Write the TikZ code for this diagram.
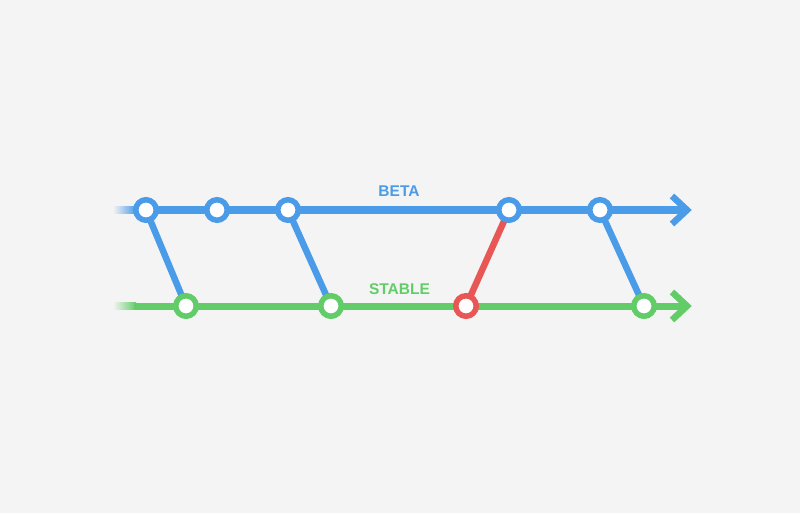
\documentclass[tikz,border=0pt]{standalone}
\usepackage{fontspec}
\setmainfont{Liberation Sans}
\definecolor{bg}{HTML}{F4F4F4}
\definecolor{bblue}{HTML}{4A9BE8}
\definecolor{sgreen}{HTML}{62CD68}
\definecolor{cred}{HTML}{E85656}
\tikzset{
  commit/.style={circle, draw=#1, fill=white, line width=5.5pt, minimum size=20.5pt, inner sep=0pt},
  branch/.style={draw=#1, line width=7pt},
  chev/.style={draw=#1, line width=6.5pt, line join=miter},
  merge/.style={draw=#1, line width=6.5pt},
  lbl/.style={font=\fontsize{15.5}{16}\selectfont\bfseries, text=#1, inner sep=0pt}
}
\begin{document}
\begin{tikzpicture}[x=1pt,y=-1pt]
\fill[bg] (0,0) rectangle (800,513);
\useasboundingbox (0,0) rectangle (800,513);
% fading starts
\shade[left color=bg, right color=bblue] (113,206.5) rectangle (136,213.5);
\shade[left color=bg, right color=sgreen] (113,302.5) rectangle (136,309.5);
\coordinate (bs) at (134,210);
\coordinate (be) at (684,210);
\coordinate (bt) at (687,210);
\coordinate (ss) at (134,306);
\coordinate (se) at (684,306);
\coordinate (st) at (687,306);
\path[branch=bblue] (bs) -- (be);
\path[chev=bblue] ([shift={(-15,-14)}]bt) -- (bt) -- ([shift={(-15,14)}]bt);
\path[branch=sgreen] (ss) -- (se);
\path[chev=sgreen] ([shift={(-15,-14)}]st) -- (st) -- ([shift={(-15,14)}]st);
% commit positions
\coordinate (b1) at (146,210);
\coordinate (b2) at (217,210);
\coordinate (b3) at (288,210);
\coordinate (b4) at (509,210);
\coordinate (b5) at (600,210);
\coordinate (s1) at (186,306);
\coordinate (s2) at (331,306);
\coordinate (s3) at (466,306);
\coordinate (s4) at (644,306);
\path[merge=bblue] (b1) -- (s1);
\path[merge=bblue] (b3) -- (s2);
\path[merge=cred] (s3) -- (b4);
\path[merge=bblue] (b5) -- (s4);
\node[commit=bblue] (n1) at (b1) {};
\node[commit=bblue] (n2) at (b2) {};
\node[commit=bblue] (n3) at (b3) {};
\node[commit=bblue] (n4) at (b4) {};
\node[commit=bblue] (n5) at (b5) {};
\node[commit=sgreen] (m1) at (s1) {};
\node[commit=sgreen] (m2) at (s2) {};
\node[commit=cred] (m3) at (s3) {};
\node[commit=sgreen] (m4) at (s4) {};
\node[lbl=bblue] (beta) at (399,191.5) {BETA};
\node[lbl=sgreen] (stable) at (399.5,289) {STABLE};
\end{tikzpicture}
\end{document}
